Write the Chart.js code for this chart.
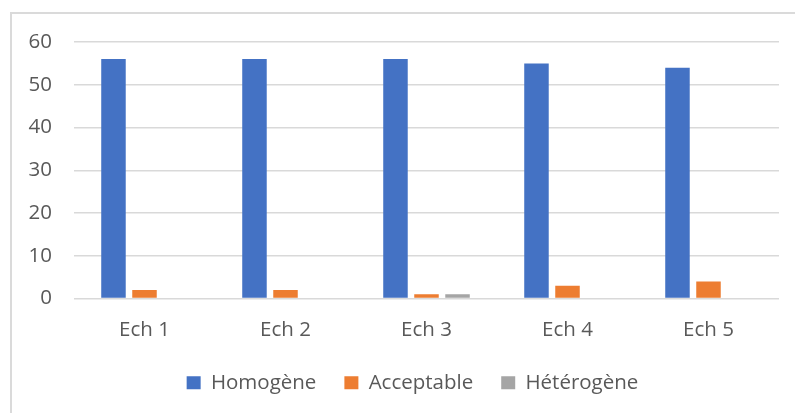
<!DOCTYPE html>
<html lang="fr">
<head>
  <meta charset="UTF-8" />
  <title>Echantillons</title>
  <script src="https://cdn.jsdelivr.net/npm/chart.js"></script>
  <style>
    html, body { margin: 0; padding: 0; background: #ffffff; }
    .wrap { position: relative; width: 795px; height: 413px; overflow: hidden; }
    .frame {
      position: absolute; left: 10px; top: 12px;
      width: 805px; height: 440px;
      border: 2px solid #dadada; box-sizing: border-box;
    }
    canvas { position: absolute; left: 0; top: 0; }
  </style>
</head>
<body>
  <div class="wrap">
    <div class="frame"></div>
    <canvas id="chart" width="795" height="413"></canvas>
  </div>
  <script>
    const categories = ['Ech 1', 'Ech 2', 'Ech 3', 'Ech 4', 'Ech 5'];
    const homogene = [56, 56, 56, 55, 54];
    const acceptable = [2, 2, 1, 3, 4];
    const heterogene = [0, 0, 1, 0, 0];
    const yTicks = [0, 10, 20, 30, 40, 50, 60];

    const textColor = '#595959';
    const font = { family: "'Open Sans', sans-serif", size: 20.5 };

    // centre the legend on the framed box (10px .. 815px) rather than the canvas
    const legendCentre = 412.5;
    const legendInFrame = {
      id: 'legendInFrame',
      afterLayout(chart) {
        const lg = chart.legend;
        const shift = legendCentre - (lg.left + lg.right) / 2;
        lg.left += shift;
        lg.right += shift;
      }
    };

    new Chart(document.getElementById('chart'), {
      type: 'bar',
      data: {
        labels: categories,
        datasets: [
          { label: 'Homogène', data: homogene, backgroundColor: '#4472C4' },
          { label: 'Acceptable', data: acceptable, backgroundColor: '#ED7D31' },
          { label: 'Hétérogène', data: heterogene, backgroundColor: '#A5A5A5' }
        ]
      },
      plugins: [legendInFrame],
      options: {
        responsive: false,
        animation: false,
        categoryPercentage: 0.66,
        barPercentage: 0.79,
        layout: { padding: { top: 42, right: 16, left: 0, bottom: 10 } },
        plugins: {
          tooltip: { enabled: false },
          legend: {
            position: 'bottom',
            labels: {
              color: textColor,
              font: font,
              boxWidth: 14,
              boxHeight: 13,
              padding: 28
            }
          }
        },
        scales: {
          x: {
            grid: { display: false },
            border: { display: false },
            ticks: { color: textColor, font: font, padding: 11 },
            afterFit: s => { s.height = 46; }
          },
          y: {
            min: 0,
            max: 60,
            afterBuildTicks: s => { s.ticks = yTicks.map(v => ({ value: v })); },
            grid: { color: '#d9d9d9', lineWidth: 1.5, drawTicks: false },
            border: { display: false },
            ticks: { color: textColor, font: font, padding: 22 },
            afterFit: s => { s.width = 74; }
          }
        }
      }
    });
  </script>
</body>
</html>
